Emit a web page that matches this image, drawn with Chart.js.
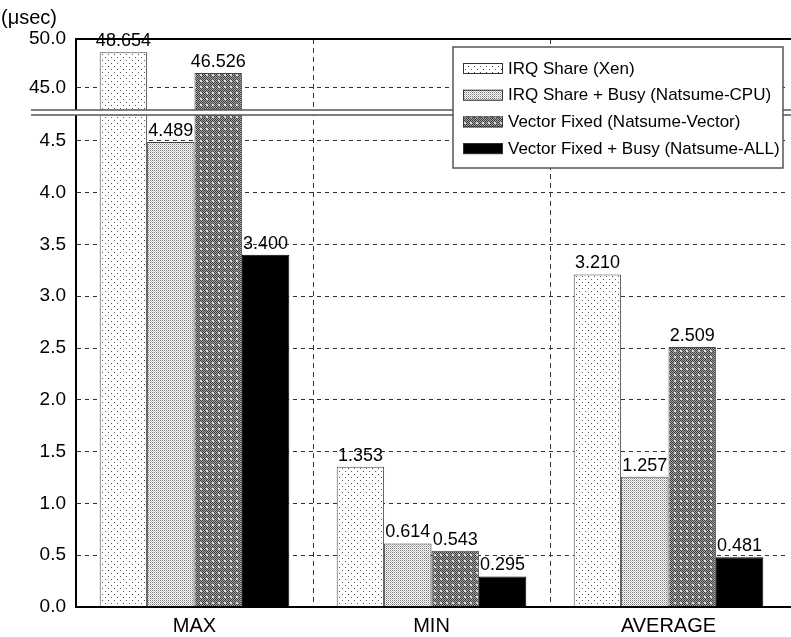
<!DOCTYPE html>
<html>
<head>
<meta charset="utf-8">
<script src="https://cdn.jsdelivr.net/npm/chart.js@4.4.0/dist/chart.umd.min.js"></script>
<style>
  html, body { margin: 0; padding: 0; background: #fff; }
  canvas { display: block; }
</style>
</head>
<body>
<canvas id="latency" width="791" height="637"></canvas>
<script>
// ── Data ─────────────────────────────────────────────────────────
const categories = ["MAX", "MIN", "AVERAGE"];
const seriesNames = [
    "IRQ Share (Xen)",
    "IRQ Share + Busy (Natsume-CPU)",
    "Vector Fixed (Natsume-Vector)",
    "Vector Fixed + Busy (Natsume-ALL)"
];
const irqShare        = [48.654, 1.353, 3.210];
const irqShareBusy    = [4.489, 0.614, 1.257];
const vectorFixed     = [46.526, 0.543, 2.509];
const vectorFixedBusy = [3.400, 0.295, 0.481];
const yTicks = [0.0, 0.5, 1.0, 1.5, 2.0, 2.5, 3.0, 3.5, 4.0, 4.5, 45.0, 50.0];
const unitLabel = "(μsec)";

const FONT = "'Liberation Sans', Arial, Helvetica, sans-serif";
const canvas = document.getElementById("latency");
const ctx = canvas.getContext("2d");

// ── Fill patterns ────────────────────────────────────────────────
function makePattern(size, bg, pixels) {
    const tile = document.createElement("canvas");
    tile.width = tile.height = size;
    const g = tile.getContext("2d");
    g.fillStyle = bg;
    g.fillRect(0, 0, size, size);
    pixels.forEach(([x, y, c]) => { g.fillStyle = c; g.fillRect(x, y, 1, 1); });
    return ctx.createPattern(tile, "repeat");
}

// sparse dots on white
const sparseDots = makePattern(6, "#fff", [[0, 0, "#555"], [3, 3, "#555"]]);

// fine light grey stipple
const fineDots = makePattern(2, "#fff", [[0, 0, "#7a7a7a"], [1, 1, "#bdbdbd"]]);

// dark checker with light spots
const checkPx = [];
for (let y = 0; y < 6; y++) {
    for (let x = 0; x < 6; x++) {
        checkPx.push([x, y, (x + y) % 2 === 0 ? "#3c3c3c" : "#a6a6a6"]);
    }
}
checkPx.push([2, 2, "#e6e6e6"], [3, 3, "#e6e6e6"], [2, 3, "#cfcfcf"], [3, 2, "#cfcfcf"]);
const darkChecker = makePattern(6, "#fff", checkPx);

const fills = [sparseDots, fineDots, darkChecker, "#000"];
const seriesValues = [irqShare, irqShareBusy, vectorFixed, vectorFixedBusy];

// ── Linear scale with a gap between two value ranges ─────────────
class BrokenLinearScale extends Chart.LinearScale {
    buildTicks() {
        return yTicks.map(v => ({ value: v }));
    }
    _parts() {
        const b = this.options.gap;
        const h = this.bottom - this.top;
        const low = h * b.lowShare;
        const gap = h * b.gapShare;
        return { b, h, low, gap, high: h - low - gap };
    }
    getPixelForValue(value) {
        if (value === null || value === undefined || isNaN(value)) return NaN;
        const { b, low, gap, high } = this._parts();
        if (value <= b.lowMax) {
            return this.bottom - (value - this.min) / (b.lowMax - this.min) * low;
        }
        if (value >= b.highMin) {
            return this.top + (this.max - value) / (this.max - b.highMin) * high;
        }
        return this.bottom - low - (value - b.lowMax) / (b.highMin - b.lowMax) * gap;
    }
    getValueForPixel(pixel) {
        const { b, low, gap, high } = this._parts();
        const fromBottom = this.bottom - pixel;
        if (fromBottom <= low) return this.min + fromBottom / low * (b.lowMax - this.min);
        if (fromBottom >= low + gap) return this.max - (pixel - this.top) / high * (this.max - b.highMin);
        return b.lowMax + (fromBottom - low) / gap * (b.highMin - b.lowMax);
    }
}
BrokenLinearScale.id = "brokenLinear";
BrokenLinearScale.defaults = Chart.LinearScale.defaults;
Chart.register(BrokenLinearScale);

// ── Overlay: axis break, frame lines, value labels, legend ───────
const overlay = {
    id: "overlay",
    afterDatasetsDraw(chart) {
        const { ctx, chartArea: area, scales: { y } } = chart;
        const yHigh = y.getPixelForValue(y.options.gap.highMin);
        const yLow  = y.getPixelForValue(y.options.gap.lowMax);
        ctx.save();

        // break strip
        ctx.fillStyle = "#fff";
        ctx.fillRect(31, yHigh, chart.width - 31, yLow - yHigh);
        ctx.strokeStyle = "#555";
        ctx.lineWidth = 1.5;
        ctx.beginPath();
        ctx.moveTo(31, yHigh); ctx.lineTo(chart.width, yHigh);
        ctx.moveTo(31, yLow);  ctx.lineTo(chart.width, yLow);
        ctx.stroke();

        // top frame and bottom axis run to the canvas edge
        ctx.strokeStyle = "#000";
        ctx.lineWidth = 2;
        ctx.beginPath();
        ctx.moveTo(area.left - 1, area.top);    ctx.lineTo(chart.width, area.top);
        ctx.moveTo(area.left - 1, area.bottom); ctx.lineTo(chart.width, area.bottom);
        ctx.stroke();

        // unit label
        ctx.fillStyle = "#000";
        ctx.font = "20px " + FONT;
        ctx.textAlign = "left";
        ctx.textBaseline = "middle";
        ctx.fillText(unitLabel, 1, 18);

        // value above each bar
        ctx.font = "18px " + FONT;
        ctx.textAlign = "center";
        ctx.textBaseline = "bottom";
        chart.data.datasets.forEach((ds, i) => {
            chart.getDatasetMeta(i).data.forEach((bar, j) => {
                ctx.fillText(ds.data[j].toFixed(3), bar.x, bar.y - 2);
            });
        });

        // legend box
        const lx = 453, ly = 47, lw = 330, lh = 121;
        ctx.fillStyle = "#fff";
        ctx.fillRect(lx, ly, lw, lh);
        ctx.strokeStyle = "#555";
        ctx.lineWidth = 1.5;
        ctx.strokeRect(lx, ly, lw, lh);
        ctx.font = "17px " + FONT;
        ctx.textAlign = "left";
        ctx.textBaseline = "middle";
        chart.data.datasets.forEach((ds, i) => {
            const cy = ly + 21 + i * 26.7;
            ctx.fillStyle = ds.backgroundColor;
            ctx.fillRect(lx + 10, cy - 5, 40, 11);
            ctx.strokeStyle = "#333";
            ctx.lineWidth = 1;
            ctx.strokeRect(lx + 10.5, cy - 4.5, 39, 10);
            ctx.fillStyle = "#000";
            ctx.fillText(ds.label, lx + 55, cy + 1);
        });
        ctx.restore();
    }
};

// ── Chart ────────────────────────────────────────────────────────
new Chart(canvas, {
    type: "bar",
    data: {
        labels: categories,
        datasets: seriesNames.map((name, i) => ({
            label:           name,
            data:            seriesValues[i],
            backgroundColor: fills[i],
            borderColor:     i === 3 ? "#000" : "#444",
            borderWidth:     1,
            categoryPercentage: 0.8,
            barPercentage:   1.0,
        }))
    },
    options: {
        responsive: false,
        animation:  false,
        devicePixelRatio: 1,
        layout: { padding: { top: 39, right: 4, left: 0, bottom: 0 } },
        plugins: {
            legend:  { display: false },
            tooltip: { enabled: false },
        },
        scales: {
            x: {
                grid: {
                    offset: true,
                    drawTicks: false,
                    lineWidth: 1,
                    color: c => (c.type === "tick" && c.index > 0) ? "#333" : "rgba(0,0,0,0)",
                },
                border: { display: true, color: "#000", width: 2, dash: [5, 4] },
                ticks: { color: "#000", font: { family: FONT, size: 20 }, padding: 7 },
                afterFit: s => { s.height = 30; },
            },
            y: {
                type: "brokenLinear",
                min: 0,
                max: 50,
                gap: { lowMax: 4.75, highMin: 42.75, lowShare: 492 / 568, gapShare: 5 / 568 },
                grid: {
                    drawTicks: false,
                    lineWidth: 1,
                    color: c => (c.type === "tick" && c.tick.value > 0 && c.tick.value < 50) ? "#333" : "rgba(0,0,0,0)",
                },
                border: { display: true, color: "#000", width: 2, dash: [4, 4] },
                ticks: {
                    autoSkip: false,
                    color: "#000",
                    font: { family: FONT, size: 19 },
                    padding: 10,
                    callback: v => Number(v).toFixed(1),
                },
                afterFit: s => { s.width = 76; },
            }
        }
    },
    plugins: [overlay]
});
</script>
</body>
</html>
